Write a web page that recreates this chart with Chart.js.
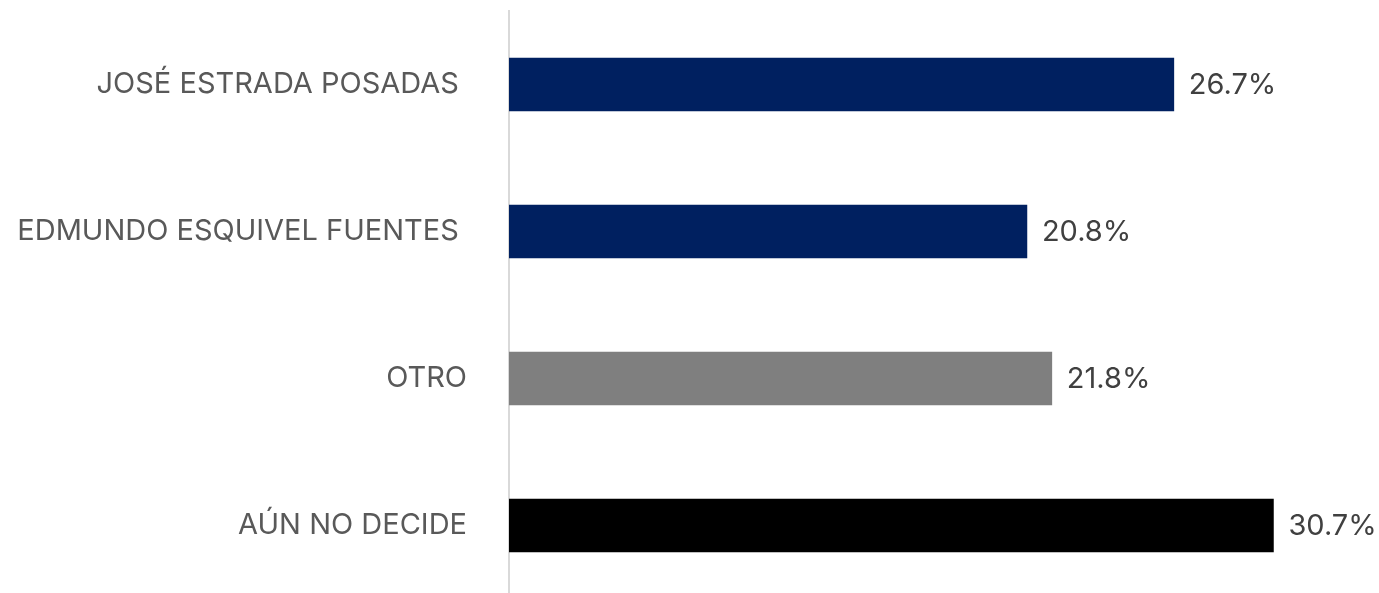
<!DOCTYPE html>
<html>
<head>
<meta charset="utf-8">
<script src="https://cdn.jsdelivr.net/npm/chart.js@4.4.0/dist/chart.umd.min.js"></script>
<style>
  html, body { margin: 0; padding: 0; background: #fff; overflow: hidden; }
</style>
</head>
<body>
<canvas id="chart" width="1379" height="600"></canvas>
<script>
// categories (trailing space as in the original labels for the first two)
const categories = ["JOSÉ ESTRADA POSADAS ", "EDMUNDO ESQUIVEL FUENTES ", "OTRO", "AÚN NO DECIDE"];
const values = [26.7, 20.8, 21.8, 30.7];
const barColors = ["#002060", "#002060", "#7f7f7f", "#000000"];

const FONT = "Inter, 'Open Sans', sans-serif";

// draws "xx.x%" right of each bar
const valueLabels = {
  id: "valueLabels",
  afterDatasetsDraw(chart) {
    const ctx = chart.ctx;
    const meta = chart.getDatasetMeta(0);
    ctx.save();
    ctx.font = "29px " + FONT;
    ctx.fillStyle = "#404040";
    ctx.textAlign = "left";
    ctx.textBaseline = "middle";
    meta.data.forEach((bar, i) => {
      ctx.fillText(values[i].toFixed(1) + "%", bar.x + 15, bar.y + 1);
    });
    ctx.restore();
  }
};

new Chart(document.getElementById("chart").getContext("2d"), {
  type: "bar",
  data: {
    labels: categories,
    datasets: [{
      data: values,
      backgroundColor: barColors,
      borderWidth: 0,
      barThickness: 53
    }]
  },
  options: {
    indexAxis: "y",
    responsive: false,
    animation: false,
    devicePixelRatio: 1,
    layout: { padding: { top: 11, right: 1, bottom: 1, left: 0 } },
    scales: {
      x: {
        display: false,
        min: 0,
        max: 34.9
      },
      y: {
        grid: { display: false },
        border: { display: true, color: "#d9d9d9", width: 2 },
        ticks: {
          color: "#595959",
          padding: 34,
          font: { family: FONT, size: 29 }
        },
        afterFit(scale) {
          scale.width = 509;
          // tick padding would otherwise also pad the axis top/bottom
          scale.paddingTop = 0;
          scale.paddingBottom = 0;
        }
      }
    },
    plugins: {
      legend: { display: false },
      tooltip: { enabled: false }
    }
  },
  plugins: [valueLabels]
});
</script>
</body>
</html>
